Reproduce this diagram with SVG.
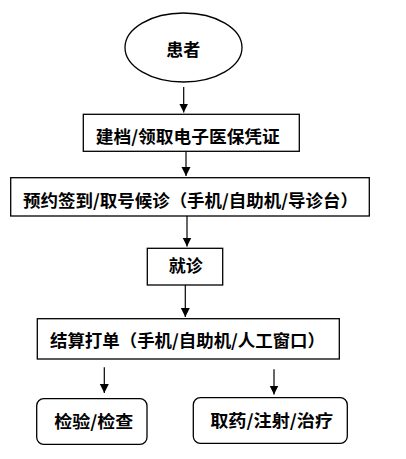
<svg xmlns="http://www.w3.org/2000/svg" width="406" height="459" viewBox="0 0 406 459">
<style>
.shape{fill:#fff;stroke:#000;stroke-width:1.3}
.t{font-family:"Noto Sans CJK SC","Liberation Serif",serif;font-size:17px;font-weight:bold;fill:#000;text-anchor:middle}
.c{stroke:#000;stroke-width:1.2;fill:none;marker-end:url(#ah)}
</style>
<defs>
<marker id="ah" markerWidth="9" markerHeight="11" refX="9" refY="4.5" orient="auto" markerUnits="userSpaceOnUse">
<path d="M0,0 L9,4.5 L0,9 Z" fill="#000"/>
</marker>
</defs>
<rect width="406" height="459" fill="#fff"/>
<g id="connectors">
<line class="c" x1="183.7" y1="87" x2="183.7" y2="112.5"/>
<line class="c" x1="186" y1="151.5" x2="186" y2="176"/>
<line class="c" x1="187" y1="216" x2="187" y2="246.5"/>
<line class="c" x1="185.3" y1="285" x2="185.3" y2="317"/>
<line class="c" x1="104.3" y1="367.3" x2="104.3" y2="393"/>
<line class="c" x1="274" y1="369.3" x2="274" y2="394.5"/>
</g>
<g id="patient">
<ellipse class="shape" cx="183.5" cy="47.5" rx="58.5" ry="34.5"/>
<text class="t" x="183.3" y="55.5">患者</text>
</g>
<g id="register">
<rect class="shape" x="83.3" y="114.3" width="216" height="37"/>
<text class="t" x="187.8" y="143" textLength="184" lengthAdjust="spacingAndGlyphs">建档/领取电子医保凭证</text>
</g>
<g id="checkin">
<rect class="shape" x="10.7" y="177.7" width="358.6" height="38.3"/>
<text class="t" x="190.5" y="206.5" textLength="335" lengthAdjust="spacingAndGlyphs">预约签到/取号候诊（手机/自助机/导诊台）</text>
</g>
<g id="visit">
<rect class="shape" x="147.3" y="248.3" width="75.4" height="36.7"/>
<text class="t" x="185.8" y="271.5">就诊</text>
</g>
<g id="settle">
<rect class="shape" x="37.3" y="318.7" width="302" height="40.3"/>
<text class="t" x="187.5" y="346.5" textLength="275" lengthAdjust="spacingAndGlyphs">结算打单（手机/自助机/人工窗口）</text>
</g>
<g id="exam">
<rect class="shape" x="36.7" y="398.7" width="110.3" height="45.6" rx="7"/>
<text class="t" x="93.7" y="428" textLength="79" lengthAdjust="spacingAndGlyphs">检验/检查</text>
</g>
<g id="treat">
<rect class="shape" x="193.3" y="397.7" width="154" height="45.6" rx="7"/>
<text class="t" x="271.7" y="427" textLength="123" lengthAdjust="spacingAndGlyphs">取药/注射/治疗</text>
</g>
</svg>
